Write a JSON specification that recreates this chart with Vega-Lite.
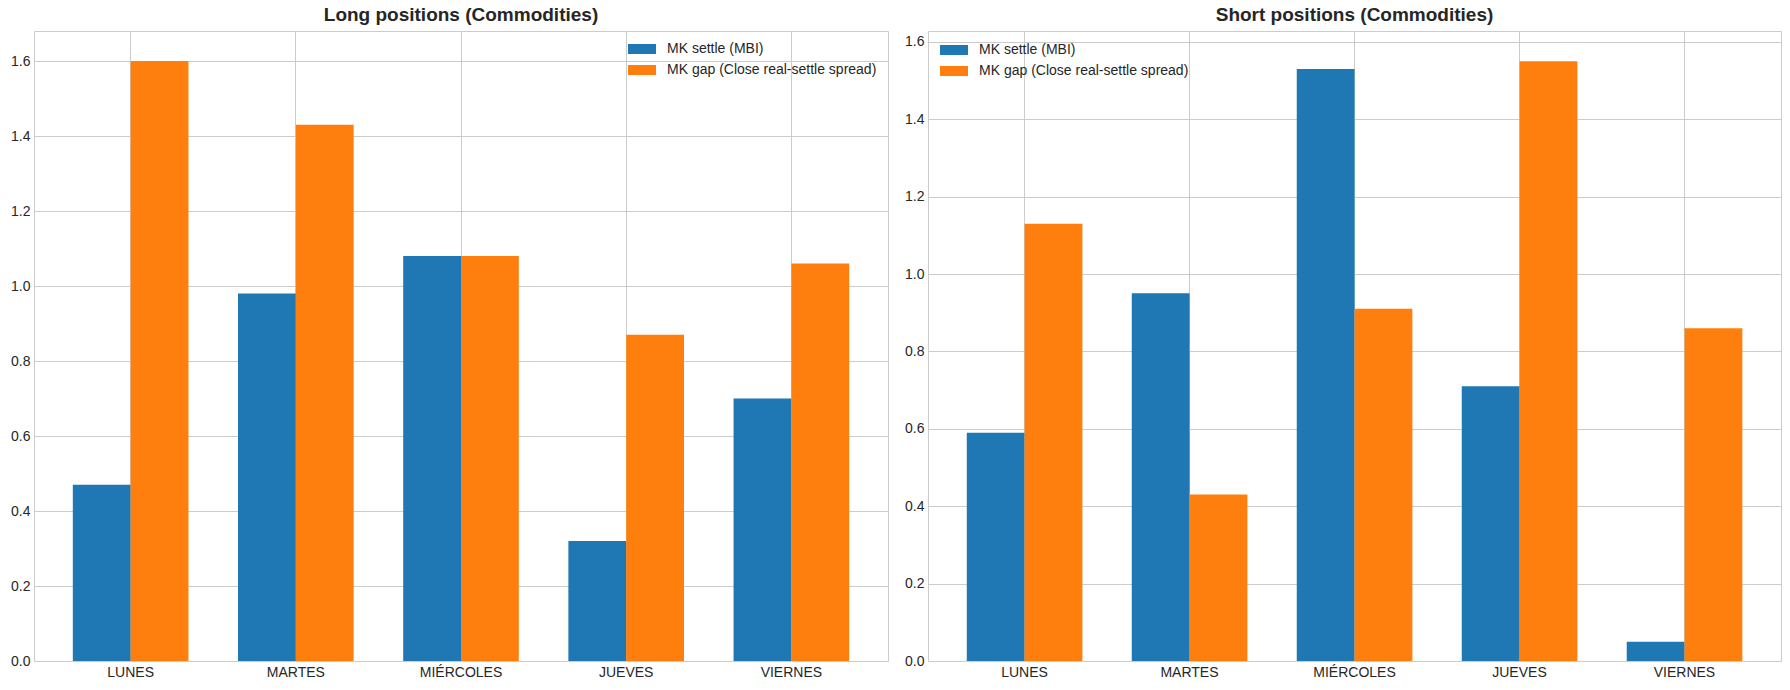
{
  "$schema": "https://vega.github.io/schema/vega-lite/v6.json",
  "padding": {"left": 10, "top": 5, "right": 0, "bottom": 0},
  "spacing": 15,
  "datasets": {
    "positions": [
      {"side": "Long", "day": "LUNES", "series": "MK settle (MBI)", "value": 0.47},
      {"side": "Long", "day": "LUNES", "series": "MK gap (Close real-settle spread)", "value": 1.6},
      {"side": "Long", "day": "MARTES", "series": "MK settle (MBI)", "value": 0.98},
      {"side": "Long", "day": "MARTES", "series": "MK gap (Close real-settle spread)", "value": 1.43},
      {"side": "Long", "day": "MIÉRCOLES", "series": "MK settle (MBI)", "value": 1.08},
      {"side": "Long", "day": "MIÉRCOLES", "series": "MK gap (Close real-settle spread)", "value": 1.08},
      {"side": "Long", "day": "JUEVES", "series": "MK settle (MBI)", "value": 0.32},
      {"side": "Long", "day": "JUEVES", "series": "MK gap (Close real-settle spread)", "value": 0.87},
      {"side": "Long", "day": "VIERNES", "series": "MK settle (MBI)", "value": 0.70},
      {"side": "Long", "day": "VIERNES", "series": "MK gap (Close real-settle spread)", "value": 1.06},
      {"side": "Short", "day": "LUNES", "series": "MK settle (MBI)", "value": 0.59},
      {"side": "Short", "day": "LUNES", "series": "MK gap (Close real-settle spread)", "value": 1.13},
      {"side": "Short", "day": "MARTES", "series": "MK settle (MBI)", "value": 0.95},
      {"side": "Short", "day": "MARTES", "series": "MK gap (Close real-settle spread)", "value": 0.43},
      {"side": "Short", "day": "MIÉRCOLES", "series": "MK settle (MBI)", "value": 1.53},
      {"side": "Short", "day": "MIÉRCOLES", "series": "MK gap (Close real-settle spread)", "value": 0.91},
      {"side": "Short", "day": "JUEVES", "series": "MK settle (MBI)", "value": 0.71},
      {"side": "Short", "day": "JUEVES", "series": "MK gap (Close real-settle spread)", "value": 1.55},
      {"side": "Short", "day": "VIERNES", "series": "MK settle (MBI)", "value": 0.05},
      {"side": "Short", "day": "VIERNES", "series": "MK gap (Close real-settle spread)", "value": 0.86}
    ]
  },
  "hconcat": [
    {
      "width": 854,
      "height": 630,
      "title": "Long positions (Commodities)",
      "data": {"name": "positions"},
      "transform": [{"filter": "datum.side === 'Long'"}],
      "mark": {"type": "bar"},
      "encoding": {
        "x": {
          "field": "day",
          "type": "nominal",
          "sort": ["LUNES", "MARTES", "MIÉRCOLES", "JUEVES", "VIERNES"],
          "scale": {"paddingInner": 0.3, "paddingOuter": 0.235},
          "axis": {"title": null, "labelAngle": 0, "grid": true, "bandPosition": 0.5}
        },
        "xOffset": {
          "field": "series",
          "sort": ["MK settle (MBI)", "MK gap (Close real-settle spread)"],
          "scale": {"paddingInner": 0, "paddingOuter": 0}
        },
        "y": {
          "field": "value",
          "type": "quantitative",
          "scale": {"domain": [0, 1.68], "nice": false},
          "axis": {"title": null, "values": [0, 0.2, 0.4, 0.6, 0.8, 1.0, 1.2, 1.4, 1.6], "format": ".1f"}
        },
        "color": {
          "field": "series",
          "type": "nominal",
          "sort": ["MK settle (MBI)", "MK gap (Close real-settle spread)"],
          "scale": {"domain": ["MK settle (MBI)", "MK gap (Close real-settle spread)"], "range": ["#1f77b4", "#ff7f0e"]},
          "legend": {"orient": "top-right", "offset": 11}
        }
      }
    },
    {
      "width": 853,
      "height": 630,
      "title": "Short positions (Commodities)",
      "data": {"name": "positions"},
      "transform": [{"filter": "datum.side === 'Short'"}],
      "mark": {"type": "bar"},
      "encoding": {
        "x": {
          "field": "day",
          "type": "nominal",
          "sort": ["LUNES", "MARTES", "MIÉRCOLES", "JUEVES", "VIERNES"],
          "scale": {"paddingInner": 0.3, "paddingOuter": 0.235},
          "axis": {"title": null, "labelAngle": 0, "grid": true, "bandPosition": 0.5}
        },
        "xOffset": {
          "field": "series",
          "sort": ["MK settle (MBI)", "MK gap (Close real-settle spread)"],
          "scale": {"paddingInner": 0, "paddingOuter": 0}
        },
        "y": {
          "field": "value",
          "type": "quantitative",
          "scale": {"domain": [0, 1.628], "nice": false},
          "axis": {"title": null, "values": [0, 0.2, 0.4, 0.6, 0.8, 1.0, 1.2, 1.4, 1.6], "format": ".1f"}
        },
        "color": {
          "field": "series",
          "type": "nominal",
          "sort": ["MK settle (MBI)", "MK gap (Close real-settle spread)"],
          "scale": {"domain": ["MK settle (MBI)", "MK gap (Close real-settle spread)"], "range": ["#1f77b4", "#ff7f0e"]},
          "legend": {"orient": "top-left", "offset": 12}
        }
      }
    }
  ],
  "resolve": {"scale": {"color": "independent", "y": "independent", "x": "independent"}, "legend": {"color": "independent"}},
  "config": {
    "font": "Liberation Sans",
    "view": {"stroke": "#cccccc", "strokeWidth": 1},
    "title": {"fontSize": 19, "fontWeight": "bold", "color": "#262626", "offset": 6, "font": "Liberation Sans"},
    "axis": {
      "ticks": false,
      "domain": false,
      "labelFont": "Liberation Sans",
      "labelFontSize": 14,
      "labelColor": "#262626",
      "labelPadding": 4,
      "gridColor": "#cccccc",
      "gridWidth": 1
    },
    "legend": {
      "title": null,
      "padding": 0,
      "labelFont": "Liberation Sans",
      "labelFontSize": 14,
      "labelColor": "#262626",
      "labelLimit": 0,
      "symbolType": "M-1,-0.36H1V0.36H-1Z",
      "symbolSize": 784,
      "symbolStrokeWidth": 0,
      "symbolOpacity": 1,
      "labelOffset": 11,
      "clipHeight": 14,
      "rowPadding": 7
    }
  }
}
